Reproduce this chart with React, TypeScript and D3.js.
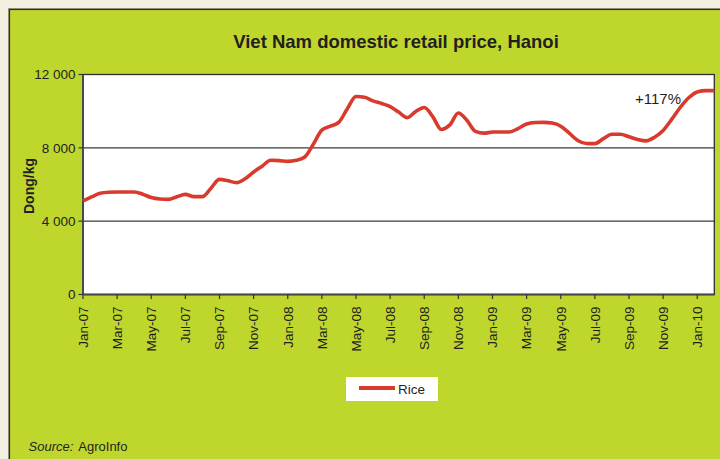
import React from "react";
import * as d3 from "d3";

// Twice-monthly Rice retail price observations (Dong/kg), starting Jan-2007
const riceValues: number[] = [
  5100, 5320, 5520, 5580, 5590, 5590, 5590, 5470, 5290, 5210,
  5190, 5330, 5460, 5340, 5340, 5800, 6280, 6200, 6100, 6310,
  6680, 7000, 7320, 7300, 7260, 7320, 7500, 8200, 8970, 9180,
  9400, 10150, 10800, 10760, 10560, 10420, 10250, 9950, 9650, 9980,
  10200, 9700, 9000, 9250, 9900, 9500, 8900, 8800, 8860, 8860,
  8860, 9050, 9300, 9380, 9390, 9350, 9180, 8800, 8400, 8240,
  8230, 8500, 8740, 8740, 8600, 8460, 8380, 8580, 8950, 9550,
  10200, 10730, 11050, 11120, 11120,
];

const tickLabels: string[] = [
  "Jan-07", "Mar-07", "May-07", "Jul-07", "Sep-07", "Nov-07",
  "Jan-08", "Mar-08", "May-08", "Jul-08", "Sep-08", "Nov-08",
  "Jan-09", "Mar-09", "May-09", "Jul-09", "Sep-09", "Nov-09", "Jan-10",
];
const tickMonths: number[] = tickLabels.map((_, i) => i * 2);

const yTicks: number[] = [0, 4000, 8000, 12000];
const gridValues: number[] = [4000, 8000];

const title = "Viet Nam domestic retail price, Hanoi";
const yLabel = "Dong/kg";
const seriesName = "Rice";
const annotation = "+117%";

const FONT = "'Liberation Sans', Arial, Helvetica, sans-serif";
const GREEN = "#bfd72d";
const RED = "#d83a2e";
const TEXT = "#231f20";

export default function App() {
  const W = 720, H = 459;
  const left = 83, right = 714.3, top = 74.5, bottom = 294.5;

  const monthPos = riceValues.map((_, i) => i / 2);
  const x = d3.scaleLinear().domain([0, 37]).range([left, right]);
  const y = d3.scaleLinear().domain([0, 12000]).range([bottom, top]);

  const fmt = d3.formatLocale({ decimal: ".", thousands: "\u00a0", grouping: [3], currency: ["", ""] }).format(",d");

  const line = d3
    .line<number>()
    .x((_, i) => x(monthPos[i]))
    .y((d) => y(d))
    .curve(d3.curveMonotoneX);

  return (
    <svg
      width={W}
      height={H}
      style={{ position: "absolute", left: 0, top: 0, background: "#f3f0e1" }}
      fontFamily={FONT}
    >
      <rect x={0} y={0} width={W} height={H} fill="#f3f0e1" />
      <rect x={8.5} y={8.5} width={W} height={H} fill={GREEN} stroke="#9a9a90" strokeWidth={1} />
      <rect x={9.5} y={9.5} width={W} height={H} fill={GREEN} stroke="#2e2e2e" strokeWidth={1.2} />

      <text x={396} y={48} textAnchor="middle" fontSize={18.5} fontWeight="bold" fill={TEXT}>
        {title}
      </text>

      <rect x={left} y={top} width={right - left} height={bottom - top} fill="#fff" />

      {gridValues.map((v) => (
        <line key={v} x1={left} x2={right} y1={y(v)} y2={y(v)} stroke="#3a3a3a" strokeWidth={1.2} />
      ))}

      <rect x={left} y={top} width={right - left} height={bottom - top} fill="none" stroke="#2e2e2e" strokeWidth={1.3} />
      <line x1={left} x2={left} y1={top} y2={bottom} stroke="#4a4a4a" strokeWidth={2} />
      <line x1={left} x2={right} y1={bottom} y2={bottom} stroke="#4a4a4a" strokeWidth={2} />

      {yTicks.map((v) => (
        <g key={v}>
          <line x1={left - 4.5} x2={left} y1={y(v)} y2={y(v)} stroke="#333" strokeWidth={1.2} />
          <text x={75.5} y={y(v)} dy="0.36em" textAnchor="end" fontSize={13.5} fill={TEXT}>
            {fmt(v)}
          </text>
        </g>
      ))}

      {tickMonths.map((m, i) => (
        <g key={m}>
          <line x1={x(m)} x2={x(m)} y1={bottom} y2={bottom + 4.5} stroke="#333" strokeWidth={1.2} />
          <text
            transform={`translate(${x(m)},${306.5}) rotate(-90)`}
            textAnchor="end"
            dy="0.36em"
            fontSize={13.5}
            fill={TEXT}
          >
            {tickLabels[i]}
          </text>
        </g>
      ))}

      <text
        transform={`translate(${28.5},${186}) rotate(-90)`}
        textAnchor="middle"
        dy="0.36em"
        fontSize={14}
        fontWeight="bold"
        fill={TEXT}
      >
        {yLabel}
      </text>

      <path d={line(riceValues) || ""} fill="none" stroke={RED} strokeWidth={3.6} strokeLinejoin="round" />

      <text x={635} y={103.5} fontSize={15} fill={TEXT}>
        {annotation}
      </text>

      <rect x={346} y={377} width={92} height={24} fill="#fff" />
      <line x1={359} x2={395} y1={388} y2={388} stroke={RED} strokeWidth={4} />
      <text x={398} y={393.5} fontSize={13.5} fill={TEXT}>
        {seriesName}
      </text>

      <text x={28.5} y={450.5} fontSize={13} fill={TEXT}>
        <tspan fontStyle="italic">Source:</tspan>
        <tspan dx={5}>AgroInfo</tspan>
      </text>
    </svg>
  );
}
